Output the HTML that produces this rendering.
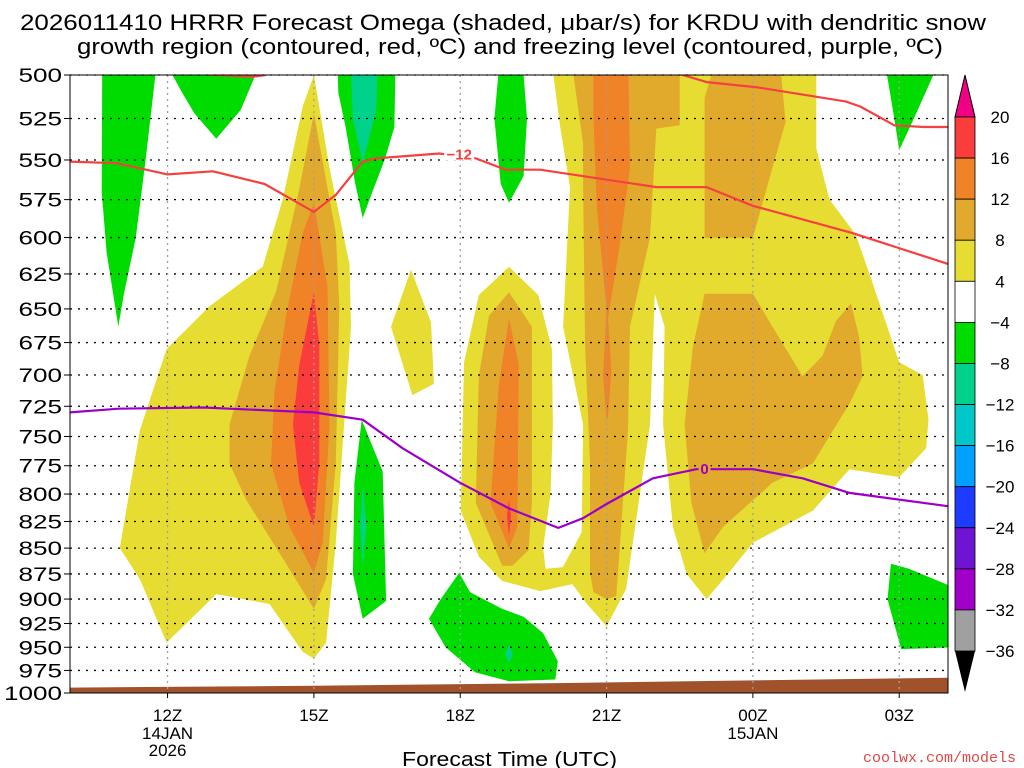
<!DOCTYPE html>
<html><head><meta charset="utf-8"><style>
html,body{margin:0;padding:0;background:#fff;}
svg{display:block;font-family:"Liberation Sans",sans-serif;}
</style></head><body>
<svg id="chart" width="1024" height="768" viewBox="0 0 1024 768">
<text x="20" y="30" textLength="966" lengthAdjust="spacingAndGlyphs" font-size="22" fill="#000">2026011410 HRRR Forecast Omega (shaded, μbar/s) for KRDU with dendritic snow</text>
<text x="77" y="54" textLength="866" lengthAdjust="spacingAndGlyphs" font-size="22" fill="#000">growth region (contoured, red, ºC) and freezing level (contoured, purple, ºC)</text>
<defs><clipPath id="plotclip"><rect x="70" y="75" width="878" height="618"/></clipPath></defs>
<g id="shading" clip-path="url(#plotclip)"></g>
<g id="grid"></g>
<g id="contours" clip-path="url(#plotclip)"></g>
<g id="axes"></g>
<g id="colorbar"></g>
<text x="402" y="766" textLength="215" lengthAdjust="spacingAndGlyphs" font-size="20">Forecast Time (UTC)</text>
<text x="1016" y="762" text-anchor="end" font-size="15" fill="#e04848" font-family="Liberation Mono, monospace">coolwx.com/models</text>
</svg>
<script>
// ---- data ----
const pressureTicks=[500,525,550,575,600,625,650,675,700,725,750,775,800,825,850,875,900,925,950,975,1000];
const timeTicks=[12,15,18,21,24,27];
const timeLabels=["12Z","15Z","18Z","21Z","00Z","03Z"];
const dateLabels={12:["14JAN","2026"],24:["15JAN"]};
const cbLevels=[20,16,12,8,4,-4,-8,-12,-16,-20,-24,-28,-32,-36];
const cbColors=["#fa3c3c","#f08228","#e2aa2c","#e6dc32","#ffffff","#00dc00","#00d28c","#00c8c8","#00a0ff","#1e3cff","#6e14d2","#a000c8","#a0a0a0"];
// shaded regions: [hour, pressure] vertices
const yellowRegions=[
 [[15.0,500],[15.32,555],[15.66,607],[15.73,618],[15.76,663],[15.62,740],[15.45,845],[15.25,945],[15.0,962],[14.77,955],[14.09,905],[13.0,895],[11.98,945],[11.43,880],[11.02,850],[11.43,745],[11.98,680],[12.86,648],[13.95,620],[14.36,575],[14.77,518]],
 [[16.99,622],[17.4,660],[17.46,707],[17.02,716],[16.58,663]],
 [[19.0,620],[19.6,640],[19.88,680],[19.9,740],[19.85,800],[19.7,850],[19.75,870],[20.2,868],[20.3,885],[19.64,892],[18.86,882],[18.38,858],[18.01,815],[18.08,690],[18.38,640]],
 [[19.91,500],[25.3,500],[25.3,543],[25.57,575],[26.11,598],[26.45,631],[27.0,690],[27.48,700],[27.6,736],[27.55,760],[27.0,785],[25.98,778],[25.23,815],[24.0,845],[23.52,873],[23.05,900],[22.64,875],[22.36,830],[22.16,740],[22.19,663],[21.99,639],[21.89,740],[21.4,890],[21.0,928],[20.6,905],[20.3,885],[20.05,873],[20.49,835],[20.52,740],[20.11,663],[20.25,567],[20.05,530]]
];
const goldRegions=[
 [[15.0,522],[15.45,597],[15.52,648],[15.45,773],[15.25,880],[15.0,910],[14.43,865],[13.61,805],[13.27,773],[13.27,740],[13.68,685],[14.23,637],[14.7,568]],
 [[19.0,638],[19.47,663],[19.47,808],[19.4,852],[19.07,867],[18.86,867],[18.32,808],[18.38,701],[18.59,655]],
 [[20.32,500],[22.5,500],[22.5,529],[22.02,531],[21.89,600],[21.48,663],[21.44,745],[21.2,897],[21.0,900],[20.73,893],[20.66,873],[20.66,773],[20.56,678],[20.52,567],[20.52,540]],
 [[23.15,500],[24.58,500],[24.67,527],[24.4,555],[24.0,600],[23.01,600],[23.01,513]],
 [[23.01,639],[24.0,639],[24.4,663],[25.02,701],[25.43,685],[25.7,659],[26.01,646],[26.18,671],[26.25,701],[25.98,723],[25.64,745],[25.23,773],[24.4,790],[23.39,830],[23.01,855],[22.74,808],[22.6,740],[22.77,678]]
];
const orangeRegions=[
 [[15.0,577],[15.28,634],[15.32,740],[15.18,845],[15.0,874],[14.5,830],[14.12,773],[14.19,714],[14.43,655],[14.77,597]],
 [[19.0,657],[19.2,692],[19.17,830],[19.0,850],[18.62,808],[18.79,708]],
 [[20.73,500],[21.45,500],[21.48,555],[21.27,605],[21.03,657],[21.1,697],[21.03,733],[21.0,738],[20.93,700],[21.0,650],[20.8,580],[20.73,523]]
];
const redRegions=[
 [[15.0,638],[15.11,677],[15.11,773],[15.0,830],[14.7,790],[14.57,740],[14.7,692]],
 [[19.0,805],[19.04,820],[19.0,838],[18.96,820]]
];
const greenRegions=[
 [[10.68,500],[11.75,500],[11.55,550],[11.35,600],[11.1,640],[10.99,663],[10.75,610],[10.65,570],[10.66,500]],
 [[12.1,500],[13.8,500],[13.5,520],[13.0,537],[12.55,522],[12.3,510]],
 [[15.49,500],[16.67,500],[16.65,530],[16.45,550],[16.2,570],[16.0,587],[15.85,565],[15.65,530],[15.5,510]],
 [[18.78,500],[19.3,500],[19.37,525],[19.3,560],[19.0,577],[18.83,565],[18.7,525]],
 [[15.98,736],[16.41,780],[16.48,902],[16.0,920],[15.8,875],[15.83,790]],
 [[17.98,874],[18.2,893],[18.86,910],[19.3,918],[19.7,935],[20.0,965],[19.95,985],[19.0,987],[18.3,977],[17.7,950],[17.36,920],[17.6,900]],
 [[26.75,500],[27.7,500],[27.3,525],[27.0,544],[26.9,525]],
 [[26.83,865],[27.2,870],[28.1,888],[28.1,950],[27.04,952],[26.76,900]]
];
const tealRegions=[
 [[15.76,500],[16.3,500],[16.28,520],[16.0,552],[15.8,525]],
 [[16.0,790],[16.07,830],[16.0,868],[15.95,830]],
 [[19.0,948],[19.08,957],[19.0,967],[18.92,957]]
];
const groundLine=[[10,994],[15,992],[20,989],[24,986],[28,983]];
// contour lines
const dgzLower=[[10.0,551],[10.95,552],[12.0,559],[12.93,557],[13.99,565],[15.0,583],[15.45,572],[16.0,551],[16.27,549],[17.57,546],[18.32,549],[18.93,556],[19.64,556],[22.02,567],[23.05,567],[24.0,579],[26.04,597],[28.0,618]];
const dgzUpperLeft=[[11.57,497],[12.25,499],[13.75,501],[14.0,500],[14.3,497]];
const dgzUpperRight=[[22.2,497],[23.05,504],[24.1,507],[25.9,515],[26.2,518],[26.9,529],[27.5,530],[28.0,530]];
const freezingLine=[[10.0,730],[11.0,727],[12.73,726],[15.0,730],[16.0,736],[16.82,760],[18.0,790],[19.0,813],[20.01,831],[20.52,822],[21.0,809],[21.95,786],[22.84,778],[24.0,778],[25.02,786],[25.98,799],[28.0,811]];

// ---- axes functions ----
const X0=70,X1=948,H0=10,H1=28;
const Y0=75,Y1=693;
function xs(h){return X0+(h-H0)*(X1-X0)/(H1-H0);}
function ys(p){return Y0+(Math.log(p)-Math.log(500))*(Y1-Y0)/(Math.log(1000)-Math.log(500));}
const NS="http://www.w3.org/2000/svg";
function mk(tag,attrs,parent){const e=document.createElementNS(NS,tag);for(const k in attrs)e.setAttribute(k,attrs[k]);parent.appendChild(e);return e;}
function pts(a){return a.map(v=>xs(v[0]).toFixed(1)+","+ys(v[1]).toFixed(1)).join(" ");}

const shading=document.getElementById('shading');
function fillSet(set,color,name){set.forEach((poly,i)=>{const e=mk('polygon',{points:pts(poly),fill:color},shading);

});}
fillSet(yellowRegions,cbColors[3],'omega-4-8-region');
fillSet(goldRegions,cbColors[2],'omega-8-12-region');
fillSet(orangeRegions,cbColors[1],'omega-12-16-region');
fillSet(redRegions,cbColors[0],'omega-16-20-region');
fillSet(greenRegions,cbColors[5],'omega-neg4-neg8-region');
fillSet(tealRegions,cbColors[6],'omega-neg8-neg12-region');
const gpoly=groundLine.concat([[28,1000],[10,1000]]);
const gr=mk('polygon',{points:pts(gpoly),fill:"#a0522d"},shading);



// grid
const grid=document.getElementById('grid');
pressureTicks.forEach(p=>{if(p===1000)return;const l=mk('line',{x1:X0,x2:X1,y1:ys(p),y2:ys(p),stroke:"#000","stroke-width":1.3,"stroke-dasharray":"2,6"},grid);

});
timeTicks.forEach(h=>{const l=mk('line',{x1:xs(h),x2:xs(h),y1:Y0,y2:Y1,stroke:"#a0a0a0","stroke-width":1.3,"stroke-dasharray":"2,4"},grid);

});

// contours
const ct=document.getElementById('contours');
function line(arr,color,name){const e=mk('polyline',{points:pts(arr),fill:"none",stroke:color,"stroke-width":2.2,"stroke-linejoin":"round"},ct);

}
line(dgzLower,"#f54040","dgz-contour-minus12");
line(dgzUpperLeft,"#f54040","dgz-contour-upper-left");
line(dgzUpperRight,"#f54040","dgz-contour-upper-right");
line(freezingLine,"#9a00c8","freezing-level-contour");
const l12bg=mk('rect',{x:xs(18)-16,y:ys(546)-9,width:30,height:16,fill:"#fff"},ct);


const t12=mk('text',{x:xs(18)-1,y:ys(546)+6,"text-anchor":"middle","font-size":15,"font-weight":"bold",fill:"#f54040"},ct);t12.textContent="−12";


const l0bg=mk('rect',{x:xs(23.01)-6,y:ys(777)-9,width:12,height:17,fill:"#e2aa2c"},ct);


const t0=mk('text',{x:xs(23.01),y:ys(777)+6,"text-anchor":"middle","font-size":15,"font-weight":"bold",fill:"#9a00c8"},ct);t0.textContent="0";



// axes
const ax=document.getElementById('axes');
mk('rect',{x:X0,y:Y0,width:X1-X0,height:Y1-Y0,fill:"none",stroke:"#000","stroke-width":1},ax);
pressureTicks.forEach(p=>{mk('line',{x1:X0-6,x2:X0,y1:ys(p),y2:ys(p),stroke:"#000"},ax);
const s=String(p);
const t=mk('text',{x:62-s.length*14.5,y:ys(p)+7,"font-size":19,textLength:s.length*14.5,lengthAdjust:"spacingAndGlyphs"},ax);t.textContent=s;

});
timeTicks.forEach((h,i)=>{mk('line',{x1:xs(h),x2:xs(h),y1:Y1,y2:Y1+5,stroke:"#000"},ax);
const t=mk('text',{x:xs(h),y:721,"text-anchor":"middle","font-size":17},ax);t.textContent=timeLabels[i];


(dateLabels[h]||[]).forEach((d,j)=>{const s=mk('text',{x:xs(h),y:739+j*17,"text-anchor":"middle","font-size":17},ax);s.textContent=d;

});});

// colorbar
const cb=document.getElementById('colorbar');
const CBX=955,CBW=20,CBT=117,CBB=651;
const step=(CBB-CBT)/(cbLevels.length-1);
const tri=mk('polygon',{points:`${CBX},${CBT} ${CBX+CBW/2},75 ${CBX+CBW},${CBT}`,fill:"#f00082",stroke:"#000"},cb);


cbColors.forEach((c,i)=>{const r=mk('rect',{x:CBX,y:CBT+i*step,width:CBW,height:step,fill:c,stroke:"#000","stroke-width":0.8},cb);

});
const tri2=mk('polygon',{points:`${CBX},${CBB} ${CBX+CBW/2},692 ${CBX+CBW},${CBB}`,fill:"#000"},cb);


cbLevels.forEach((v,i)=>{const t=mk('text',{x:1000,y:CBT+i*step+6,"text-anchor":"middle","font-size":17},cb);t.textContent=(v<0?"−":"")+Math.abs(v);

});
</script>
</body></html>
